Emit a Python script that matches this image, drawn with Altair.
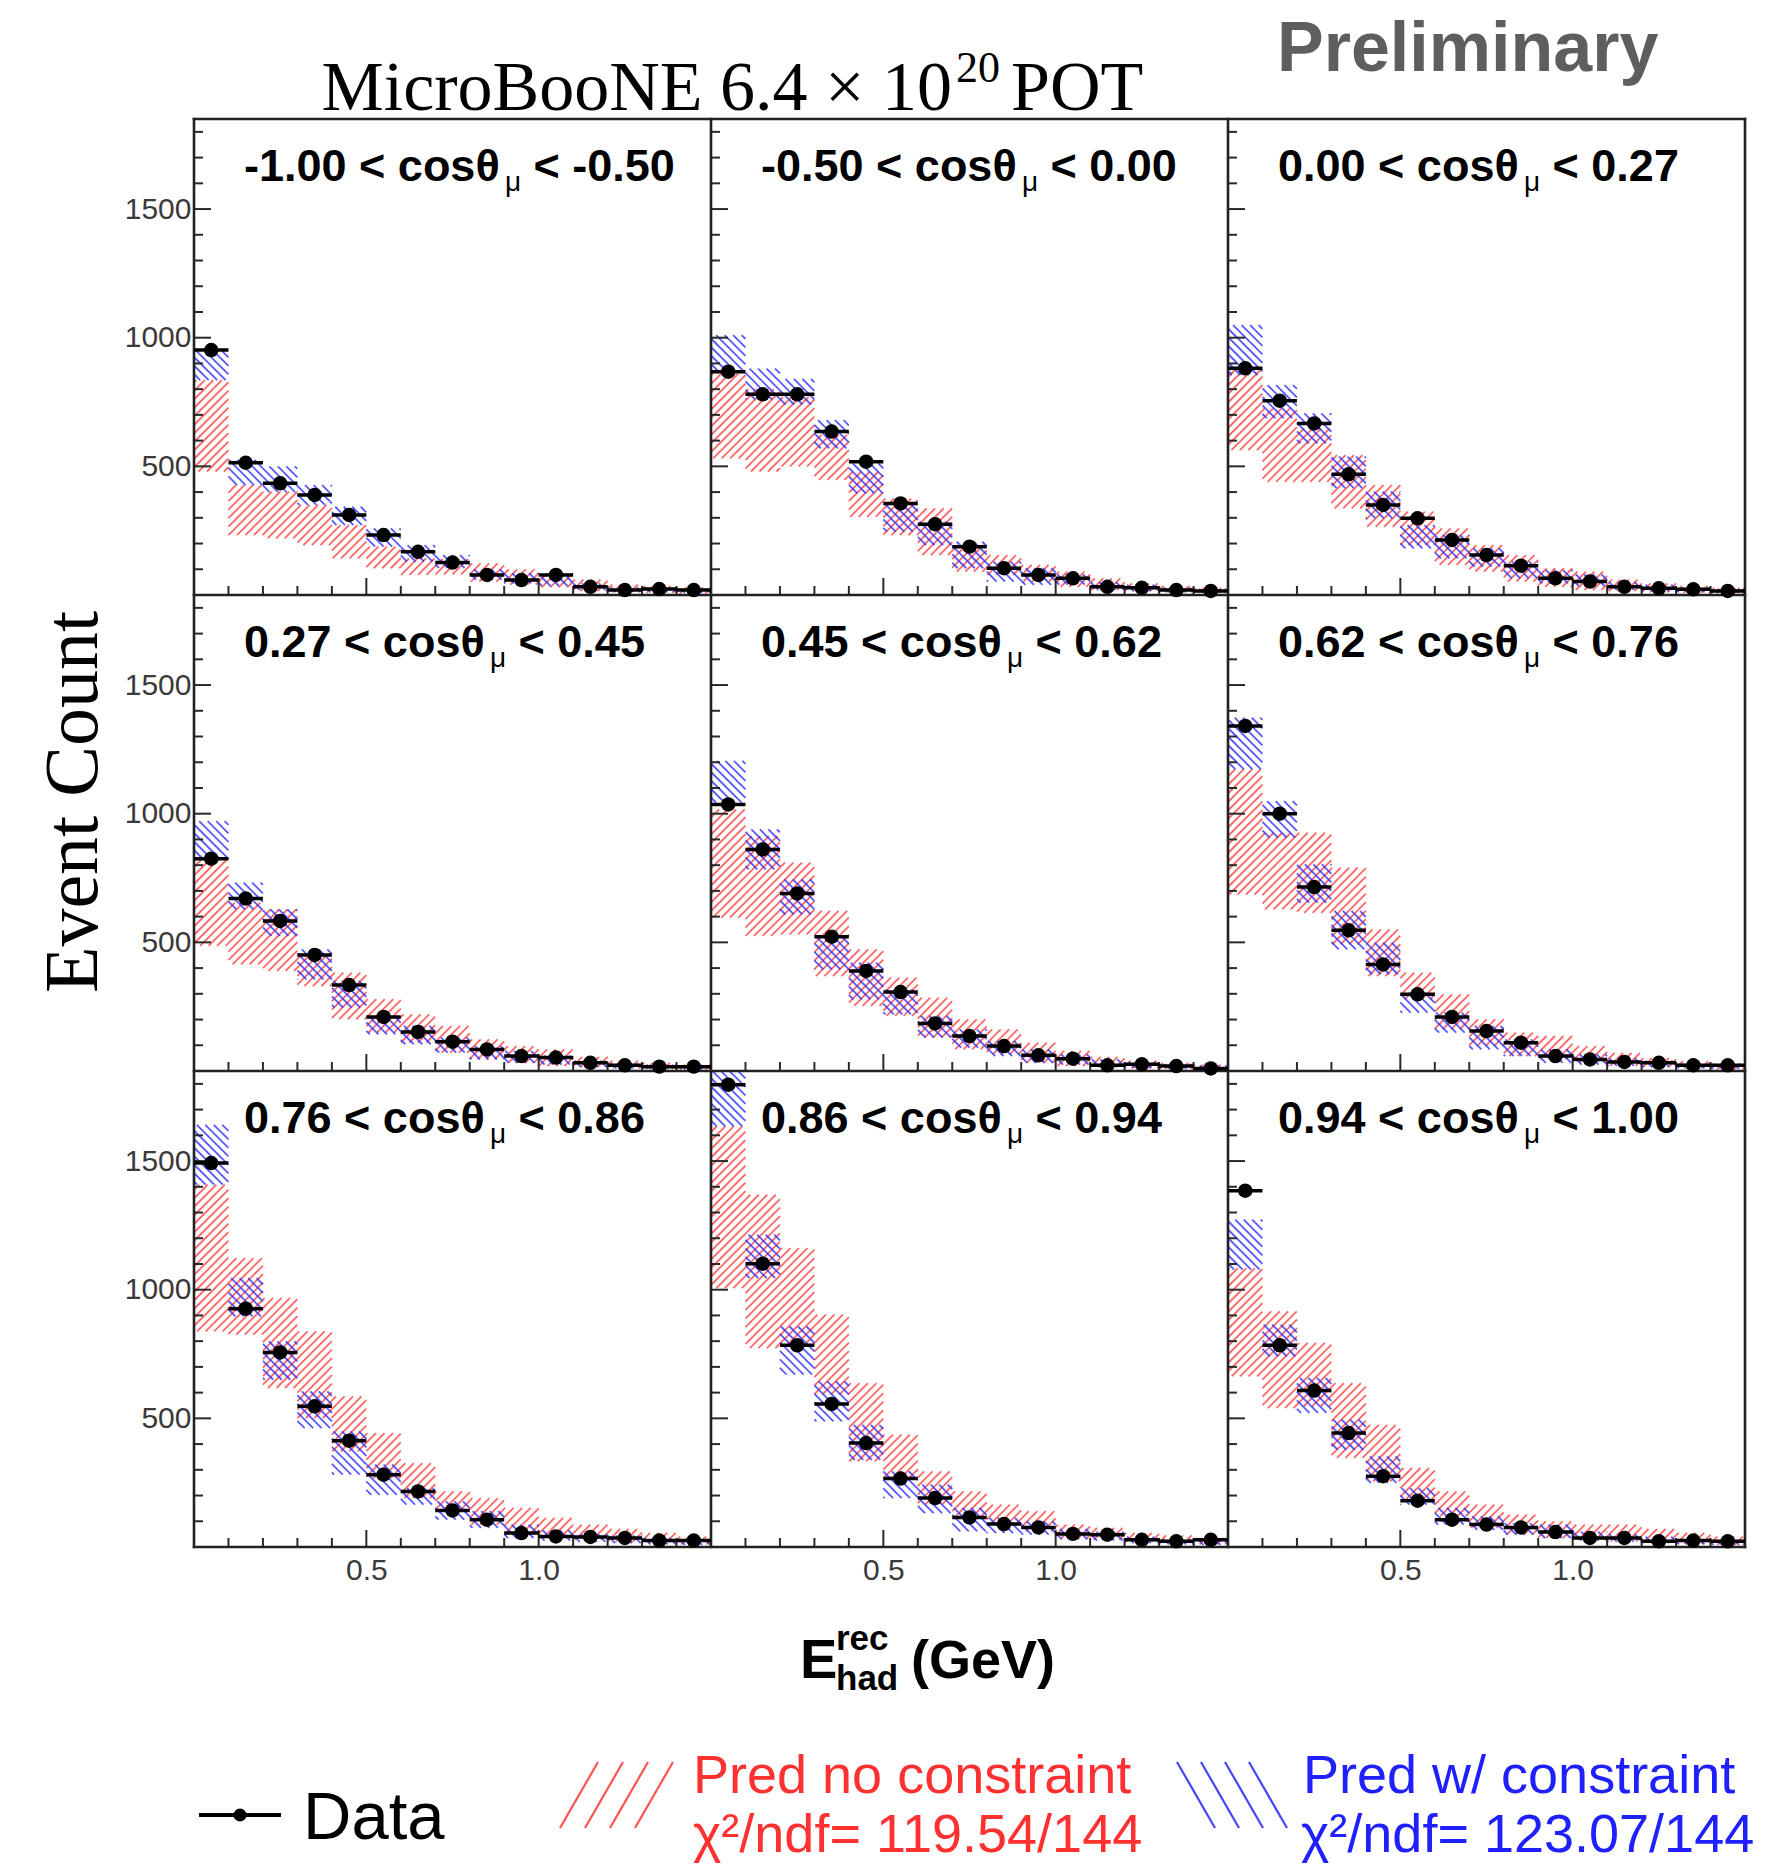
import math
import altair as alt
import pandas as pd

alt.data_transformers.disable_max_rows()

# ---------------- values ----------------
bin_edges = [0.0, 0.1, 0.2, 0.3, 0.4, 0.5, 0.6, 0.7, 0.8, 0.9, 1.0, 1.1, 1.2, 1.3, 1.4, 1.5]

cos_lo = ["-1.00", "-0.50", "0.00", "0.27", "0.45", "0.62", "0.76", "0.86", "0.94"]
cos_hi = ["-0.50", "0.00", "0.27", "0.45", "0.62", "0.76", "0.86", "0.94", "1.00"]

# data points (one row per cos(theta_mu) panel, 15 E_had bins)
data_counts = [
    [952, 514, 434, 389, 311, 233, 168, 126, 78, 58, 78, 32, 19, 23, 19],
    [868, 780, 780, 635, 518, 356, 275, 188, 104, 78, 65, 32, 28, 19, 16],
    [881, 755, 667, 469, 350, 298, 214, 155, 114, 65, 52, 32, 26, 22, 16],
    [825, 670, 583, 451, 334, 210, 152, 114, 84, 58, 52, 32, 22, 17, 17],
    [1036, 861, 690, 522, 389, 307, 185, 136, 97, 61, 48, 22, 26, 19, 10],
    [1341, 1000, 715, 547, 414, 298, 210, 155, 110, 58, 45, 35, 32, 22, 22],
    [1492, 926, 756, 547, 413, 281, 216, 142, 106, 54, 41, 39, 35, 25, 25],
    [1797, 1101, 784, 556, 404, 266, 190, 115, 89, 76, 51, 48, 28, 22, 28],
    [1385, 784, 608, 443, 275, 180, 106, 87, 76, 58, 35, 35, 22, 25, 22],
]

# prediction without constraint: band low / high
pred_nc_lo = [
    [480, 233, 220, 194, 142, 104, 78, 80, 52, 40, 30, 15, 10, 8, 5],
    [531, 480, 500, 447, 304, 233, 155, 91, 78, 52, 32, 19, 15, 10, 8],
    [563, 440, 440, 337, 265, 194, 117, 91, 52, 32, 19, 15, 10, 8, 5],
    [486, 414, 389, 330, 201, 149, 110, 71, 45, 32, 19, 15, 10, 8, 5],
    [596, 525, 531, 369, 253, 214, 130, 84, 65, 32, 19, 15, 10, 8, 5],
    [686, 628, 615, 492, 369, 278, 162, 97, 58, 45, 32, 20, 15, 10, 6],
    [838, 825, 618, 501, 372, 268, 190, 139, 87, 48, 35, 28, 20, 15, 10],
    [1006, 773, 786, 592, 333, 268, 165, 113, 87, 61, 35, 28, 20, 15, 10],
    [663, 540, 547, 346, 255, 177, 119, 74, 48, 35, 28, 22, 18, 12, 8],
]
pred_nc_hi = [
    [835, 427, 402, 350, 272, 188, 142, 140, 123, 100, 85, 60, 40, 35, 30],
    [861, 800, 770, 622, 479, 375, 337, 194, 155, 117, 91, 65, 45, 35, 28],
    [881, 725, 648, 544, 427, 324, 259, 194, 155, 104, 91, 60, 45, 35, 28],
    [823, 654, 628, 447, 382, 279, 220, 175, 123, 97, 84, 55, 40, 32, 25],
    [1017, 913, 810, 622, 473, 363, 285, 201, 162, 110, 78, 55, 40, 32, 25],
    [1172, 926, 926, 790, 550, 382, 298, 201, 149, 136, 97, 70, 50, 38, 30],
    [1408, 1123, 968, 838, 585, 443, 326, 216, 190, 152, 113, 87, 70, 55, 40],
    [1635, 1369, 1162, 903, 637, 437, 294, 216, 165, 139, 87, 74, 55, 45, 35],
    [1084, 916, 793, 637, 475, 307, 216, 165, 126, 100, 87, 87, 70, 55, 40],
]

# prediction with constraint: band low / high
pred_wc_lo = [
    [835, 427, 400, 350, 272, 188, 130, 105, 60, 45, 35, 20, 12, 10, 8],
    [865, 760, 740, 570, 395, 246, 194, 104, 52, 39, 40, 20, 15, 10, 8],
    [855, 687, 589, 415, 298, 181, 142, 110, 65, 45, 35, 20, 15, 10, 8],
    [823, 628, 525, 356, 246, 142, 104, 71, 45, 32, 25, 15, 10, 8, 6],
    [1043, 784, 609, 395, 278, 220, 130, 91, 58, 32, 25, 15, 12, 8, 6],
    [1172, 907, 654, 473, 376, 227, 149, 84, 58, 32, 25, 20, 15, 10, 8],
    [1408, 896, 650, 462, 281, 203, 165, 106, 74, 35, 25, 20, 15, 10, 8],
    [1635, 1045, 670, 488, 339, 190, 132, 61, 54, 48, 30, 25, 15, 10, 8],
    [1078, 741, 521, 378, 249, 165, 87, 67, 48, 35, 25, 20, 15, 10, 8],
]
pred_wc_hi = [
    [948, 525, 500, 427, 343, 259, 194, 155, 100, 85, 70, 45, 30, 28, 25],
    [1010, 880, 840, 680, 512, 356, 285, 207, 130, 104, 80, 50, 40, 30, 25],
    [1049, 816, 706, 538, 402, 272, 233, 181, 130, 97, 80, 50, 40, 30, 25],
    [971, 732, 628, 473, 350, 214, 175, 130, 97, 78, 60, 40, 30, 25, 22],
    [1205, 939, 745, 525, 421, 317, 214, 162, 117, 84, 65, 45, 35, 28, 22],
    [1373, 1049, 803, 622, 499, 304, 227, 175, 123, 84, 65, 50, 40, 30, 25],
    [1641, 1045, 799, 605, 449, 320, 229, 177, 139, 87, 65, 50, 45, 35, 30],
    [1848, 1214, 857, 644, 475, 294, 242, 152, 113, 100, 70, 60, 40, 32, 28],
    [1272, 864, 657, 495, 352, 229, 152, 119, 93, 87, 60, 50, 40, 32, 28],
]

y_major = [500, 1000, 1500]
y_minor_step = 100
x_major = [0.5, 1.0]
x_minor_step = 0.1

title_main = "MicroBooNE 6.4 \u00d7 10"
title_exp = "20"
title_tail = "POT"
prelim_text = "Preliminary"
y_title = "Event Count"
legend_data = "Data"
legend_nc = ["Pred no constraint", "\u03c7\u00b2/ndf= 119.54/144"]
legend_wc = ["Pred w/ constraint", "\u03c7\u00b2/ndf= 123.07/144"]

# ---------------- layout ----------------
CANVAS_W, CANVAS_H = 1792, 1866
LEFT, TOP = 194, 119
PW, PH = 517, 476
NCOL, NROW = 3, 3
W, H = NCOL * PW, NROW * PH
E_MAX, Y_MAX = 1.5, 1850
KX, KY = PW / E_MAX, PH / Y_MAX
HATCH = 8.5

RED = "#ff4040"
BLUE = "#3030ff"


def panel_offset(p):
    r, c = divmod(p, NCOL)
    return c * E_MAX, (NROW - 1 - r) * Y_MAX


def to_data(fx, fy):
    return (fx - LEFT) / KX, (H - (fy - TOP)) / KY


xscale = alt.Scale(domain=[0, NCOL * E_MAX], nice=False, zero=False)
yscale = alt.Scale(domain=[0, NROW * Y_MAX], nice=False, zero=False)
xaxis = alt.Axis(
    values=[c * E_MAX + v for c in range(NCOL) for v in x_major],
    labelExpr=f"format(datum.value % {E_MAX}, '.1f')",
    ticks=False, domain=False, grid=False, title=None,
    labelFont="Liberation Sans", labelFontSize=30, labelColor="#3a3a3a",
    labelPadding=8, labelFlush=False, labelOverlap=False,
)
yaxis = alt.Axis(
    values=[r * Y_MAX + v for r in range(NROW) for v in y_major],
    labelExpr=f"format(datum.value % {Y_MAX}, 'd')",
    ticks=False, domain=False, grid=False, title=None,
    labelFont="Liberation Sans", labelFontSize=30, labelColor="#3a3a3a",
    labelPadding=3, labelFlush=False, labelOverlap=False,
)


def X(f):
    return alt.X(f, type="quantitative", scale=xscale, axis=xaxis)


def Y(f):
    return alt.Y(f, type="quantitative", scale=yscale, axis=yaxis)


# ---------------- hatching of the prediction bands ----------------
def hatch_segments(x0, x1, u0, u1, rising, s):
    out = []
    if u1 <= u0 or x1 <= x0:
        return out
    if rising:
        k0 = math.ceil((x0 - u1) / s)
        k1 = math.floor((x1 - u0) / s)
        for k in range(k0, k1 + 1):
            c = k * s
            ua, ub = max(u0, x0 - c), min(u1, x1 - c)
            if ub - ua > 0.4:
                out.append((ua + c, ua, ub + c, ub))
    else:
        k0 = math.ceil((x0 + u0) / s)
        k1 = math.floor((x1 + u1) / s)
        for k in range(k0, k1 + 1):
            c = k * s
            ua, ub = max(u0, c - x1), min(u1, c - x0)
            if ub - ua > 0.4:
                out.append((c - ua, ua, c - ub, ub))
    return out


def band_hatch(lo_table, hi_table, rising):
    rows = []
    for p in range(len(lo_table)):
        xo, yo = panel_offset(p)
        for i in range(len(bin_edges) - 1):
            x0 = (xo + bin_edges[i]) * KX
            x1 = (xo + bin_edges[i + 1]) * KX
            u0 = (yo + lo_table[p][i]) * KY
            u1 = (yo + hi_table[p][i]) * KY
            for a, b, c, d in hatch_segments(x0, x1, u0, u1, rising, HATCH):
                rows.append(dict(X=a / KX, Y=b / KY, X2=c / KX, Y2=d / KY))
    return pd.DataFrame(rows)


red_df = band_hatch(pred_nc_lo, pred_nc_hi, True)
blue_df = band_hatch(pred_wc_lo, pred_wc_hi, False)

red_layer = alt.Chart(red_df).mark_rule(color=RED, strokeWidth=1.8, opacity=0.8).encode(
    x=X("X"), y=Y("Y"), x2=alt.X2("X2"), y2=alt.Y2("Y2"))
blue_layer = alt.Chart(blue_df).mark_rule(color=BLUE, strokeWidth=1.8, opacity=0.8).encode(
    x=X("X"), y=Y("Y"), x2=alt.X2("X2"), y2=alt.Y2("Y2"))

# ---------------- ticks and panel frames ----------------
tick_rows = []
for p in range(NCOL * NROW):
    xo, yo = panel_offset(p)
    v = y_minor_step
    while v < Y_MAX:
        L = 17 if v in y_major else 9
        tick_rows.append(dict(X=xo, X2=xo + L / KX, Y=yo + v, Y2=yo + v))
        v += y_minor_step
    for k in range(1, int(round(E_MAX / x_minor_step))):
        e = round(k * x_minor_step, 3)
        L = 17 if e in x_major else 9
        tick_rows.append(dict(X=xo + e, X2=xo + e, Y=yo, Y2=yo + L / KY))
ticks_layer = alt.Chart(pd.DataFrame(tick_rows)).mark_rule(color="#2a2a2a", strokeWidth=2).encode(
    x=X("X"), y=Y("Y"), x2=alt.X2("X2"), y2=alt.Y2("Y2"))

frame_rows = []
for c in range(NCOL + 1):
    frame_rows.append(dict(X=c * E_MAX, X2=c * E_MAX, Y=0, Y2=NROW * Y_MAX))
for r in range(NROW + 1):
    frame_rows.append(dict(X=0, X2=NCOL * E_MAX, Y=r * Y_MAX, Y2=r * Y_MAX))
frame_layer = alt.Chart(pd.DataFrame(frame_rows)).mark_rule(
    color="#222222", strokeWidth=2.6, strokeCap="square").encode(
    x=X("X"), y=Y("Y"), x2=alt.X2("X2"), y2=alt.Y2("Y2"))

# ---------------- data points ----------------
pt_rows = []
for p in range(len(data_counts)):
    xo, yo = panel_offset(p)
    for i, v in enumerate(data_counts[p]):
        pt_rows.append(dict(X=xo + (bin_edges[i] + bin_edges[i + 1]) / 2,
                            X0=xo + bin_edges[i], X1=xo + bin_edges[i + 1], Y=yo + v))
pts = pd.DataFrame(pt_rows)
bars_layer = alt.Chart(pts).mark_rule(color="black", strokeWidth=3.5).encode(
    x=X("X0"), x2=alt.X2("X1"), y=Y("Y"))
dots_layer = alt.Chart(pts).mark_circle(color="black", opacity=1, size=210).encode(
    x=X("X"), y=Y("Y"))

# ---------------- panel labels ----------------
BOLD_W = {".": 0.278, "-": 0.333, " ": 0.278, "<": 0.584, "c": 0.556, "o": 0.611,
          "s": 0.556, "\u03b8": 0.611}


def text_w(s, size):
    return sum(BOLD_W.get(ch, 0.556) for ch in s) * size


LBL_SIZE, MU_SIZE = 45, 28
bold_rows, mu_rows = [], []
for p in range(len(cos_lo)):
    r, c = divmod(p, NCOL)
    left = LEFT + c * PW + 50
    base = TOP + r * PH + 62
    part_a = f"{cos_lo[p]} < cos\u03b8"
    part_c = f"< {cos_hi[p]}"
    mu_x = left + text_w(part_a, LBL_SIZE) + 2
    c_x = mu_x + 0.576 * MU_SIZE + 0.278 * LBL_SIZE
    for txt, fx in ((part_a, left), (part_c, c_x)):
        xd, yd = to_data(fx, base)
        bold_rows.append(dict(X=xd, Y=yd, T=txt))
    xd, yd = to_data(mu_x, base + 10)
    mu_rows.append(dict(X=xd, Y=yd, T="\u03bc"))

label_layer = alt.Chart(pd.DataFrame(bold_rows)).mark_text(
    align="left", baseline="alphabetic", font="Liberation Sans", fontWeight="bold",
    fontSize=LBL_SIZE, color="black").encode(x=X("X"), y=Y("Y"), text="T:N")
mu_layer = alt.Chart(pd.DataFrame(mu_rows)).mark_text(
    align="left", baseline="alphabetic", font="Liberation Sans",
    fontSize=MU_SIZE, color="black").encode(x=X("X"), y=Y("Y"), text="T:N")


# ---------------- annotations ----------------
def ann(text, fx, fy, **props):
    xd, yd = to_data(fx, fy)
    d = pd.DataFrame({"X": [xd], "Y": [yd], "T": [text]})
    base = dict(baseline="alphabetic")
    base.update(props)
    return alt.Chart(d).mark_text(**base).encode(x=X("X"), y=Y("Y"), text="T:N")


SERIF = "Liberation Serif"
SANS = "Liberation Sans"
ann_layers = [
    ann(title_main, 952, 110, align="right", font=SERIF, fontSize=70, color="black"),
    ann(title_exp, 956, 82, align="left", font=SERIF, fontSize=44, color="black"),
    ann(title_tail, 1011, 110, align="left", font=SERIF, fontSize=70, color="black"),
    ann(prelim_text, 1277, 71, align="left", font=SANS, fontWeight="bold", fontSize=70,
        color="#5e5e5e"),
    ann(y_title, 74, 802, align="center", baseline="middle", angle=270, font=SERIF,
        fontSize=76, color="black"),
    ann("E", 800, 1678, align="left", font=SANS, fontWeight="bold", fontSize=56, color="black"),
    ann("rec", 836, 1650, align="left", font=SANS, fontWeight="bold", fontSize=35, color="black"),
    ann("had", 836, 1690, align="left", font=SANS, fontWeight="bold", fontSize=35, color="black"),
    ann("(GeV)", 911, 1678, align="left", font=SANS, fontWeight="bold", fontSize=54, color="black"),
    ann(legend_data, 303, 1839, align="left", font=SANS, fontSize=67, color="black"),
    ann(legend_nc[0], 693, 1793, align="left", font=SANS, fontSize=54, color="#ff3030"),
    ann(legend_nc[1], 693, 1852, align="left", font=SANS, fontSize=54, color="#ff3030"),
    ann(legend_wc[0], 1303, 1793, align="left", font=SANS, fontSize=54, color="#2020ff"),
    ann(legend_wc[1], 1301, 1852, align="left", font=SANS, fontSize=54, color="#2020ff"),
]


# legend symbols
def seg_rows(segs):
    rows = []
    for a, b, c, d in segs:
        x1, y1 = to_data(a, b)
        x2, y2 = to_data(c, d)
        rows.append(dict(X=x1, Y=y1, X2=x2, Y2=y2))
    return pd.DataFrame(rows)


leg_red = seg_rows([(x, 1828, x + 38, 1762) for x in (560, 585, 610, 635)])
leg_blue = seg_rows([(x, 1762, x + 38, 1828) for x in (1177, 1201, 1225, 1249)])
leg_line = seg_rows([(199, 1815, 281, 1815)])
dx, dy = to_data(240, 1815)
leg_dot = pd.DataFrame({"X": [dx], "Y": [dy]})

legend_layers = [
    alt.Chart(leg_red).mark_rule(color=RED, strokeWidth=2.2, opacity=0.9).encode(
        x=X("X"), y=Y("Y"), x2=alt.X2("X2"), y2=alt.Y2("Y2")),
    alt.Chart(leg_blue).mark_rule(color=BLUE, strokeWidth=2.2, opacity=0.9).encode(
        x=X("X"), y=Y("Y"), x2=alt.X2("X2"), y2=alt.Y2("Y2")),
    alt.Chart(leg_line).mark_rule(color="black", strokeWidth=4).encode(
        x=X("X"), y=Y("Y"), x2=alt.X2("X2"), y2=alt.Y2("Y2")),
    alt.Chart(leg_dot).mark_circle(color="black", opacity=1, size=170).encode(
        x=X("X"), y=Y("Y")),
]

chart = alt.layer(
    red_layer, blue_layer, ticks_layer, frame_layer, bars_layer, dots_layer,
    label_layer, mu_layer, *ann_layers, *legend_layers,
).properties(
    width=W, height=H,
    autosize=alt.AutoSizeParams(type="none"),
    padding={"left": LEFT, "top": TOP, "right": CANVAS_W - LEFT - W,
             "bottom": CANVAS_H - TOP - H},
    background="white",
).configure_view(stroke=None)

chart.save("out.html", embed_options={"renderer": "svg", "actions": False})
